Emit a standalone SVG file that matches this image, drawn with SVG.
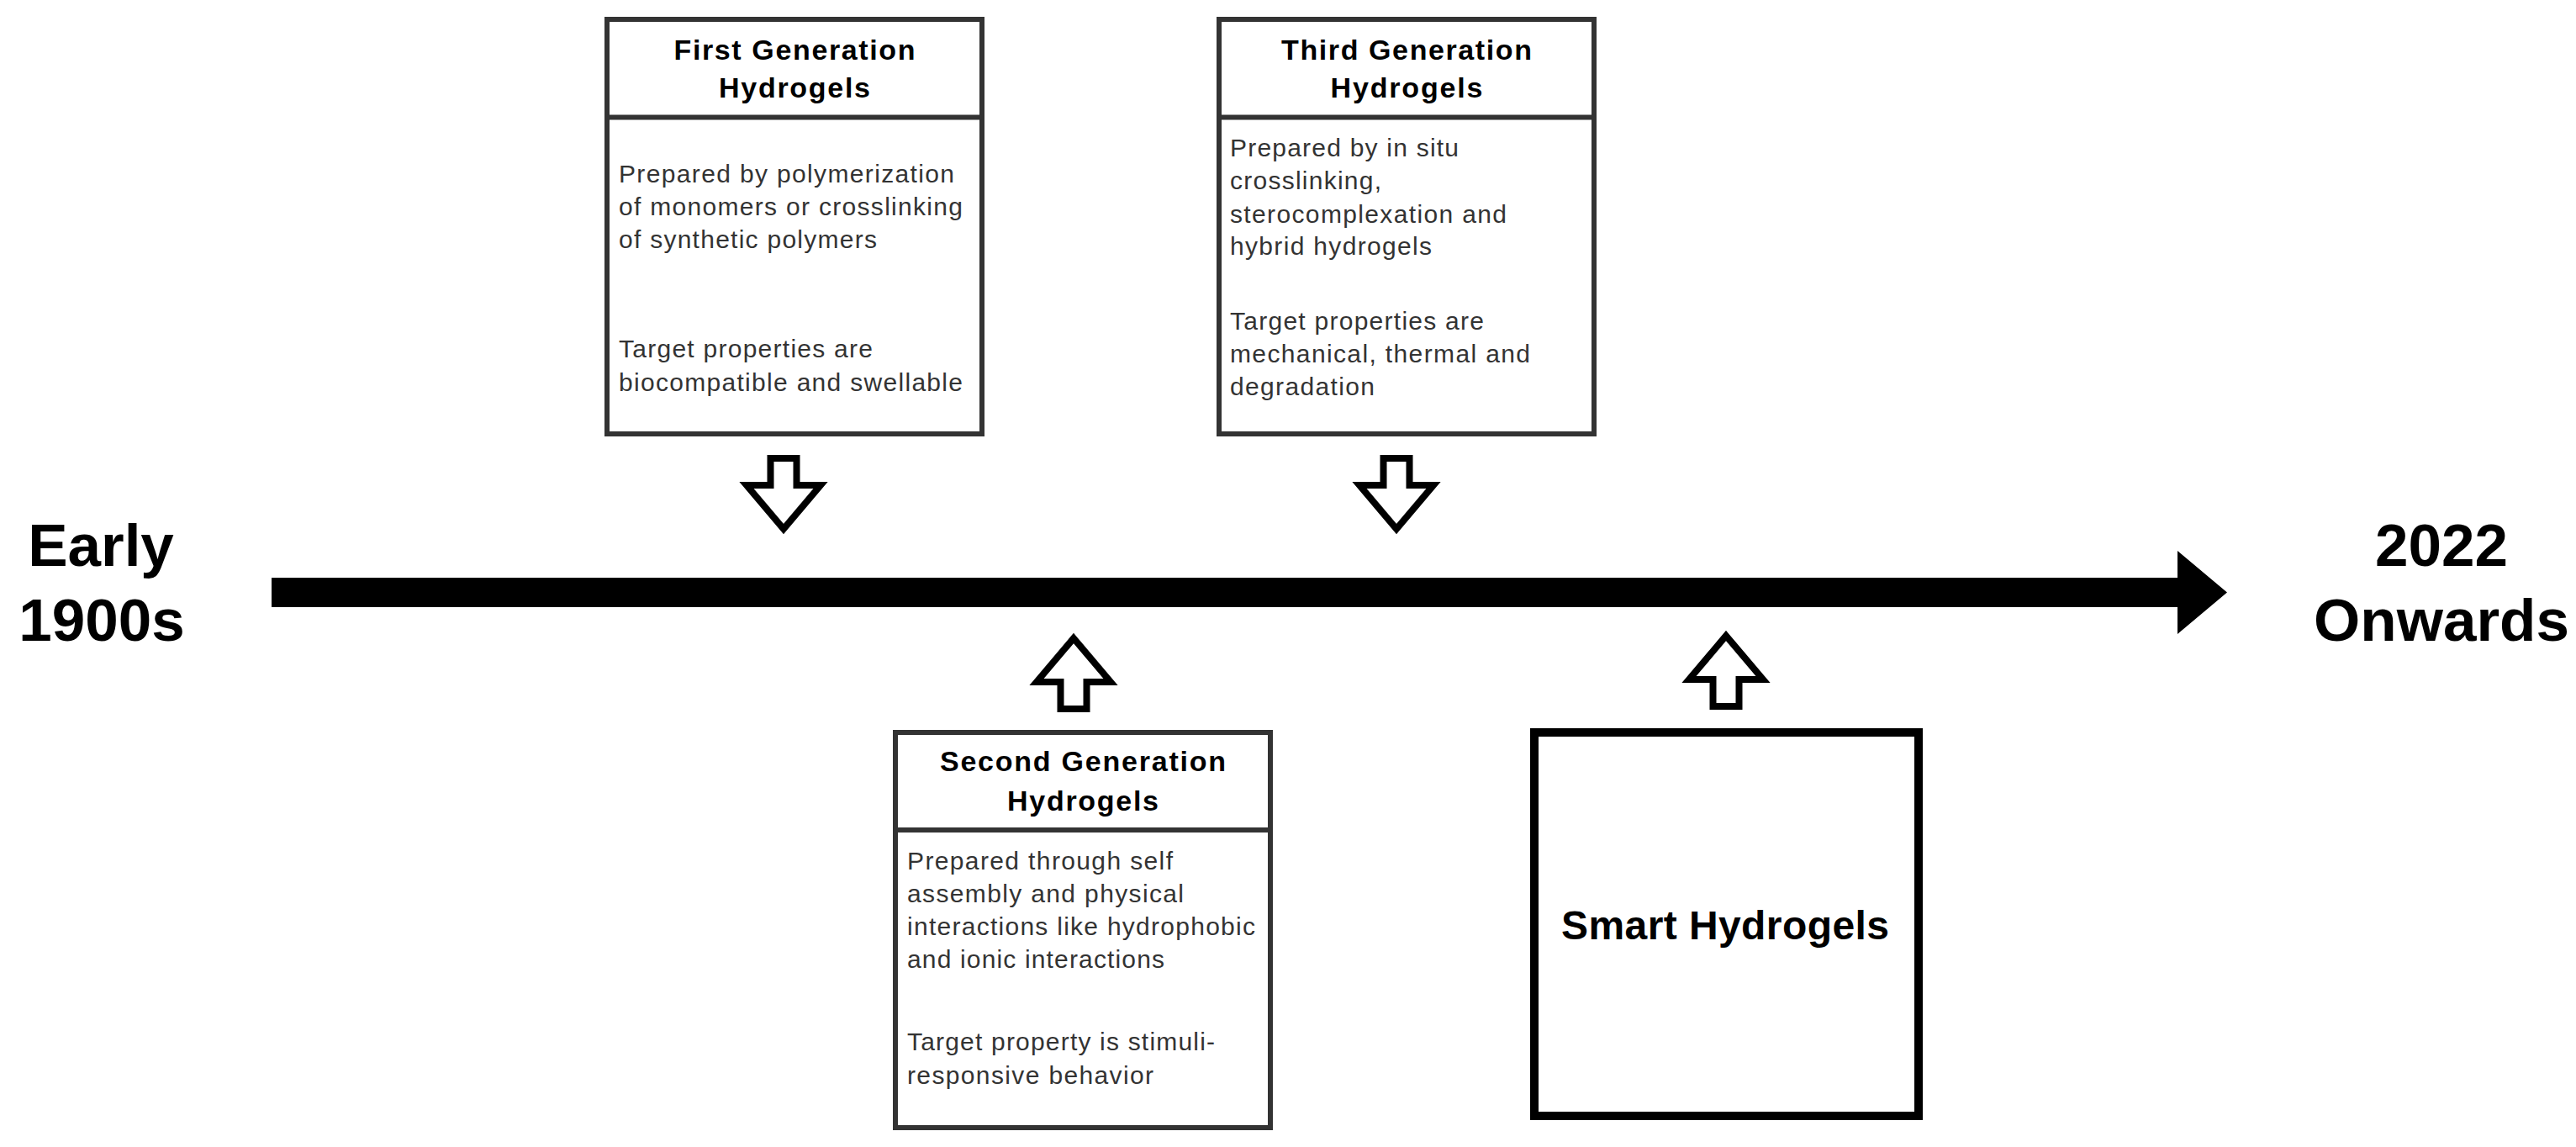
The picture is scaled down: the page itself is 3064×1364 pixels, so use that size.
<svg xmlns="http://www.w3.org/2000/svg" width="3064" height="1364" viewBox="0 0 3064 1364">
<style>
.box{fill:#fff;stroke:#333;stroke-width:6}
.sep{stroke:#333;stroke-width:6}
.title{font-family:"Liberation Sans",Arial,sans-serif;font-weight:bold;font-size:34px;fill:#000;text-anchor:middle}
.body{font-family:"Liberation Sans",Arial,sans-serif;font-size:30px;fill:#333}
.big{font-family:"Liberation Sans",Arial,sans-serif;font-weight:bold;font-size:71px;fill:#000;text-anchor:middle}
.smart{font-family:"Liberation Sans",Arial,sans-serif;font-weight:bold;font-size:48px;fill:#000;text-anchor:middle}
.blk{fill:#fff;stroke:#000;stroke-width:8;stroke-linejoin:miter;stroke-miterlimit:10}
</style>
<defs>
<path id="down" d="M -15.5,4 L 15.5,4 L 15.5,36 L 44,36 L 0,88 L -44,36 L -15.5,36 Z"/>
<path id="up" d="M 0,6 L 44,58 L 15.5,58 L 15.5,90 L -15.5,90 L -15.5,58 L -44,58 Z"/>
</defs>
<rect width="3064" height="1364" fill="#fff"/>

<g id="connectors">
<path id="timeline" d="M 323,687 L 2590,687 L 2590,655 L 2649,704.5 L 2590,754 L 2590,722 L 323,722 Z" fill="#000"/>
<use href="#down" class="blk" transform="translate(932,541)"/>
<use href="#down" class="blk" transform="translate(1661,541)"/>
<use href="#up" class="blk" transform="translate(1277,753)"/>
<use href="#up" class="blk" transform="translate(2053,750)"/>
</g>

<g id="label-start">
<text class="big" x="120" y="673">Early</text>
<text class="big" x="121" y="762">1900s</text>
</g>
<g id="label-end">
<text class="big" x="2904" y="673">2022</text>
<text class="big" x="2904" y="762">Onwards</text>
</g>

<g id="first-gen">
<rect class="box" x="722" y="23" width="446" height="493"/>
<line class="sep" x1="722" y1="139.5" x2="1168" y2="139.5"/>
<text class="title" x="945" y="71" textLength="287" lengthAdjust="spacing">First Generation</text>
<text class="title" x="945" y="116" textLength="180" lengthAdjust="spacing">Hydrogels</text>
<text class="body" x="736" y="217" textLength="399" lengthAdjust="spacing">Prepared by polymerization</text>
<text class="body" x="736" y="256" textLength="409" lengthAdjust="spacing">of monomers or crosslinking</text>
<text class="body" x="736" y="295" textLength="307" lengthAdjust="spacing">of synthetic polymers</text>
<text class="body" x="736" y="425" textLength="302" lengthAdjust="spacing">Target properties are</text>
<text class="body" x="736" y="465" textLength="409" lengthAdjust="spacing">biocompatible and swellable</text>
</g>

<g id="third-gen">
<rect class="box" x="1450" y="23" width="446" height="493"/>
<line class="sep" x1="1450" y1="139.5" x2="1896" y2="139.5"/>
<text class="title" x="1673" y="71" textLength="298" lengthAdjust="spacing">Third Generation</text>
<text class="title" x="1673" y="116" textLength="181" lengthAdjust="spacing">Hydrogels</text>
<text class="body" x="1463" y="186" textLength="272" lengthAdjust="spacing">Prepared by in situ</text>
<text class="body" x="1463" y="225" textLength="180" lengthAdjust="spacing">crosslinking,</text>
<text class="body" x="1463" y="265" textLength="329" lengthAdjust="spacing">sterocomplexation and</text>
<text class="body" x="1463" y="303" textLength="240" lengthAdjust="spacing">hybrid hydrogels</text>
<text class="body" x="1463" y="392" textLength="302" lengthAdjust="spacing">Target properties are</text>
<text class="body" x="1463" y="431" textLength="357" lengthAdjust="spacing">mechanical, thermal and</text>
<text class="body" x="1463" y="470" textLength="172" lengthAdjust="spacing">degradation</text>
</g>

<g id="second-gen">
<rect class="box" x="1065" y="871" width="446" height="470"/>
<line class="sep" x1="1065" y1="987" x2="1511" y2="987"/>
<text class="title" x="1288" y="917" textLength="340" lengthAdjust="spacing">Second Generation</text>
<text class="title" x="1288" y="964" textLength="180" lengthAdjust="spacing">Hydrogels</text>
<text class="body" x="1079" y="1034" textLength="316" lengthAdjust="spacing">Prepared through self</text>
<text class="body" x="1079" y="1073" textLength="329" lengthAdjust="spacing">assembly and physical</text>
<text class="body" x="1079" y="1112" textLength="414" lengthAdjust="spacing">interactions like hydrophobic</text>
<text class="body" x="1079" y="1151" textLength="306" lengthAdjust="spacing">and ionic interactions</text>
<text class="body" x="1079" y="1249" textLength="366" lengthAdjust="spacing">Target property is stimuli-</text>
<text class="body" x="1079" y="1289" textLength="293" lengthAdjust="spacing">responsive behavior</text>
</g>

<g id="smart">
<rect x="1825" y="871" width="457" height="456" fill="#fff" stroke="#000" stroke-width="10"/>
<text class="smart" x="2052" y="1117" textLength="390" lengthAdjust="spacing">Smart Hydrogels</text>
</g>
</svg>
